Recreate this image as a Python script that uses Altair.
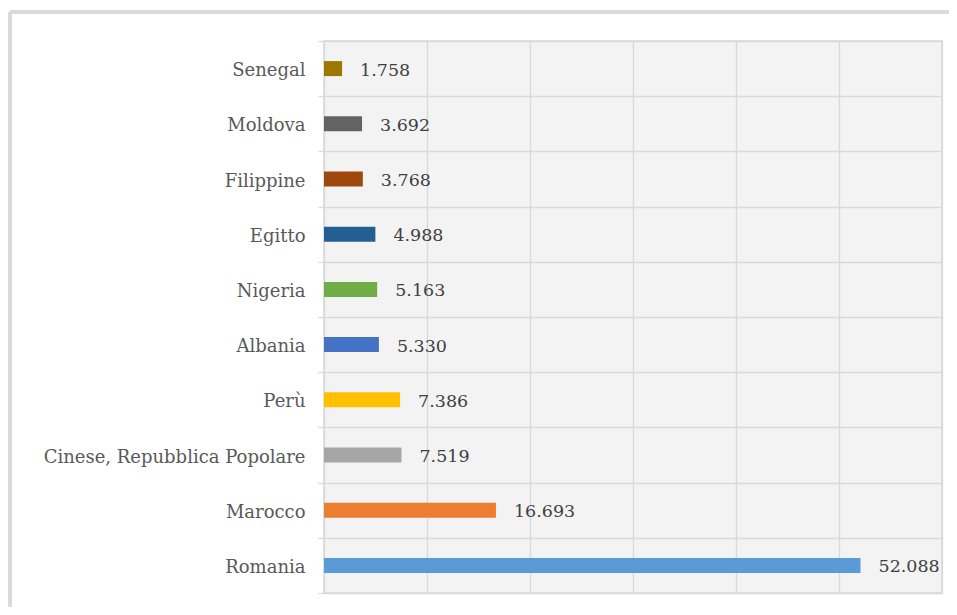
import altair as alt
import pandas as pd

countries = ["Senegal", "Moldova", "Filippine", "Egitto", "Nigeria", "Albania",
             "Perù", "Cinese, Repubblica Popolare", "Marocco", "Romania"]
values = [1758, 3692, 3768, 4988, 5163, 5330, 7386, 7519, 16693, 52088]
colors = ["#9E7700", "#636363", "#9E480E", "#255E91", "#70AD47", "#4472C4",
          "#FFC000", "#A5A5A5", "#ED7D31", "#5B9BD5"]

df = pd.DataFrame({
    "country": countries,
    "value": values,
    "label": [f"{v:,}".replace(",", ".") for v in values],
})

FONT = "DejaVu Serif"
GRID = "#d9d9d9"

y_enc = alt.Y("country:N", sort=countries, title=None,
              scale=alt.Scale(paddingInner=0, paddingOuter=0),
              axis=alt.Axis(grid=True, gridColor=GRID, gridWidth=1.3,
                            tickBand="extent", ticks=True, tickSize=6,
                            tickColor=GRID, tickWidth=1.3, domain=False,
                            labelPadding=13, labelOffset=2, labelFont=FONT,
                            labelFontSize=18, labelLimit=400, labelColor="#595959"))
x_enc = alt.X("value:Q", title=None,
              scale=alt.Scale(domain=[0, 60000]),
              axis=alt.Axis(values=[0, 10000, 20000, 30000, 40000, 50000, 60000],
                            grid=True, gridColor=GRID, gridWidth=1.3,
                            labels=False, ticks=False, domain=False))

bars = alt.Chart(df).mark_bar(size=15).encode(
    y=y_enc, x=x_enc,
    color=alt.Color("country:N", scale=alt.Scale(domain=countries, range=colors), legend=None),
)

text = alt.Chart(df).mark_text(align="left", baseline="middle", dx=18, dy=2,
                               font=FONT, fontSize=17.5, color="#404040").encode(
    y=alt.Y("country:N", sort=countries), x="value:Q", text="label:N")

frame = alt.Chart(df).mark_rule(color="#d9d9d9", strokeWidth=2.5).encode(
    x=alt.value(-314), x2=alt.value(700), y=alt.value(-29), y2=alt.value(-29))
frame_left = alt.Chart(df).mark_rule(color="#d9d9d9", strokeWidth=2.5).encode(
    x=alt.value(-314), y=alt.value(-29), y2=alt.value(700))

chart = alt.layer(bars, text, frame, frame_left).properties(
    width=618, height=552,
    autosize=alt.AutoSizeParams(type="none"),
    padding={"left": 316, "top": 33, "right": 7, "bottom": 14},
).configure_view(fill="#f3f3f3", stroke=GRID, strokeWidth=1.5)

chart.save("out.html", embed_options={"renderer": "svg", "actions": False})
